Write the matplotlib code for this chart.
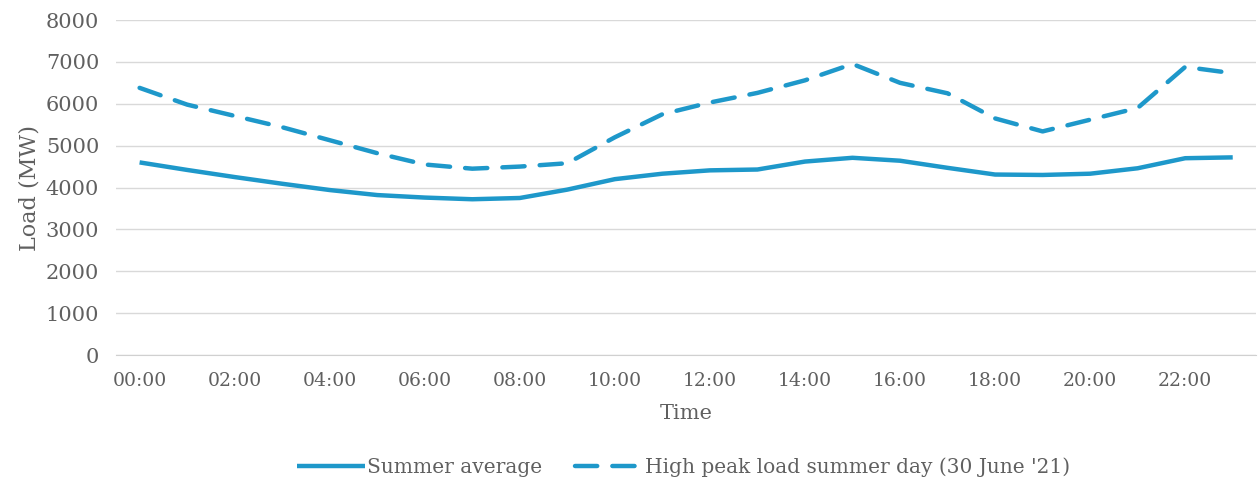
import matplotlib
matplotlib.use("Agg")
import matplotlib.pyplot as plt

hours = [f"{h:02d}:00" for h in range(24)]
summer_avg = [4600, 4420, 4250, 4090, 3940, 3820, 3760, 3720, 3750, 3950, 4200, 4330,
              4410, 4430, 4620, 4710, 4640, 4470, 4310, 4300, 4330, 4460, 4700, 4720]
peak_day = [6380, 5980, 5710, 5440, 5130, 4820, 4550, 4450, 4500, 4580, 5200, 5750,
            6030, 6260, 6560, 6950, 6500, 6250, 5650, 5340, 5620, 5900, 6880, 6730]
series_names = ["Summer average", "High peak load summer day (30 June '21)"]
yticks = list(range(0, 8001, 1000))

color = "#1E98CA"
txt = "#606060"
plt.rcParams['font.family'] = ['DejaVu Serif']

fig = plt.figure(figsize=(12.59, 4.86), dpi=100)
ax = fig.add_axes([0.092, 0.2695, 0.906, 0.6893])
x = list(range(len(hours)))
ax.plot(x, summer_avg, color=color, lw=3.2, solid_capstyle='butt', label=series_names[0])
ax.plot(x, peak_day, color=color, lw=3.2, dashes=(5.0, 3.4), dash_capstyle='round',
        label=series_names[1])

ax.set_xlim(-0.5, 23.5)
ax.set_ylim(0, 8000)
ax.set_yticks(yticks)
ax.set_xticks(x[::2])
ax.set_xticklabels(hours[::2])
ax.grid(axis='y', color='#d9d9d9', lw=1.0)
ax.set_axisbelow(True)
for s in ['top', 'right', 'left']:
    ax.spines[s].set_visible(False)
ax.spines['bottom'].set_color('#d0d0d0')
ax.tick_params(axis='both', length=0, colors=txt)
ax.tick_params(axis='x', pad=12, labelsize=13.5)
ax.tick_params(axis='y', pad=12, labelsize=15)
ax.set_xlabel("Time", fontsize=15, color=txt, labelpad=10)
ax.set_ylabel("Load (MW)", fontsize=16, color=txt, labelpad=4)

leg = fig.legend(loc='center', bbox_to_anchor=(0.543, 0.039), ncol=2, frameon=False,
                 fontsize=14.5, handlelength=3.4, columnspacing=1.6, handletextpad=0.1)
for t in leg.get_texts():
    t.set_color(txt)

fig.savefig("out.png", dpi=100)
